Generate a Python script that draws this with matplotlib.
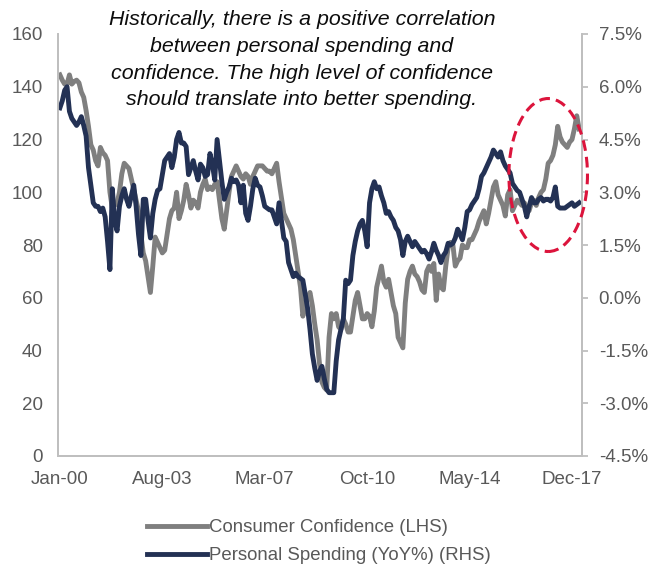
import matplotlib
matplotlib.use("Agg")
import matplotlib.pyplot as plt
from matplotlib.patches import Ellipse
import numpy as np

plt.rcParams["font.family"] = ["Liberation Sans", "DejaVu Sans"]

GRAY = "#7f7f7f"
NAVY = "#233154"
RED = "#dc143c"
AXIS = "#bfbfbf"
LABEL = "#595959"

# monthly, Jan-00 .. Mar-18
confidence = [
    144.5, 142.5, 141, 141, 144.5, 141, 142, 142.5, 141.5, 138, 136, 131,   # 2000
    125, 118, 116, 112, 110, 117, 115, 114, 112, 100, 94, 95,               # 2001
    96, 100, 107, 111, 110, 109, 105, 101, 97, 93, 84, 77,                  # 2002
    74, 68, 62, 72, 83, 81, 79, 77, 78, 84, 90, 93,                         # 2003
    94, 100, 90, 93, 97, 103, 99, 94, 97, 96, 94, 100,                      # 2004
    103, 105, 101, 102, 101, 103, 104, 97, 90, 86, 93, 100,                 # 2005
    106, 108, 110, 108, 106, 105, 107, 106, 103, 106, 108, 110,             # 2006
    110, 110, 109, 108, 108, 107, 109, 111, 104, 98, 92, 90,                # 2007
    88, 86, 82, 76, 70, 64, 53, 57, 60, 62, 57, 50,                         # 2008
    44, 35, 28, 26, 25, 45, 54, 52, 54, 49, 48, 52,                         # 2009
    50, 47, 47, 53, 59, 62, 57, 52, 52, 54, 53, 49,                         # 2010
    55, 64, 68, 72, 66, 64, 67, 62, 57, 54, 45, 43,                         # 2011
    41, 58, 67, 70, 72, 69, 68, 66, 63, 62, 70, 72,                         # 2012
    70, 73, 59, 69, 64, 63, 72, 79, 81, 80, 72, 74,                         # 2013
    75, 80, 79, 79, 82, 82, 84, 86, 89, 91, 93, 88,                         # 2014
    92, 97, 102, 104, 99, 97, 95, 91, 99, 101, 93, 95,                      # 2015
    97, 96, 95, 96, 94, 93, 96, 97, 95, 98, 100, 101,                       # 2016
    105, 111, 112, 114, 118, 125, 121, 119, 118, 117, 119, 120,             # 2017
    124, 129, 124,                                                          # 2018
]
spending = [
    5.4, 5.6, 5.9, 6.0, 5.3, 5.1, 5.0, 4.9, 5.0, 5.15, 4.9, 4.6,            # 2000
    3.7, 3.2, 2.7, 2.6, 2.6, 2.45, 2.55, 2.3, 1.6, 0.8, 3.1, 2.2,           # 2001
    1.9, 2.6, 2.9, 3.1, 2.8, 2.6, 2.9, 3.2, 2.6, 1.8, 1.2, 2.8,             # 2002
    2.8, 2.2, 1.7, 2.4, 2.8, 3.05, 3.1, 3.5, 3.9, 4.0, 4.1, 3.7,            # 2003
    4.0, 4.5, 4.7, 4.4, 4.4, 4.3, 3.5, 3.7, 3.9, 3.6, 3.35, 3.8,            # 2004
    3.7, 3.45, 3.5, 4.1, 3.8, 3.35, 4.5, 3.9, 3.3, 2.8, 3.0, 3.15,          # 2005
    3.4, 3.3, 3.35, 3.2, 2.7, 3.2, 2.4, 2.2, 2.6, 3.1, 3.4, 3.2,            # 2006
    3.15, 2.9, 2.6, 2.55, 2.5, 2.5, 2.3, 2.1, 2.7, 2.2, 1.7, 1.6,           # 2007
    1.0, 0.8, 0.6, 0.7, 0.6, 0.55, 0.5, 0.1, -0.3, -0.9, -1.6, -2.0,        # 2008
    -2.35, -2.1, -1.95, -2.3, -2.6, -2.7, -2.7, -2.7, -1.8, -1.2, -0.9, -0.6,  # 2009
    0.5, 0.4, 0.5, 1.2, 1.6, 1.9, 2.1, 2.2, 1.9, 1.45, 2.7, 3.1,            # 2010
    3.3, 3.1, 3.15, 2.9, 2.7, 2.4, 2.45, 2.3, 2.2, 2.0, 1.9, 1.65,          # 2011
    1.2, 1.6, 1.75, 1.6, 1.45, 1.6, 1.5, 1.4, 1.3, 1.35, 1.25, 1.1,         # 2012
    1.3, 1.55, 1.35, 1.2, 1.0, 1.2, 1.3, 1.55, 1.5, 1.55, 1.7, 1.95,        # 2013
    1.8, 1.65, 2.0, 2.45, 2.5, 2.65, 2.75, 2.85, 3.1, 3.45, 3.55, 3.7,      # 2014
    3.85, 4.0, 4.2, 4.1, 4.0, 4.15, 3.9, 3.75, 3.65, 3.55, 3.25, 3.15,      # 2015
    3.05, 3.0, 2.8, 2.6, 2.3, 2.6, 2.85, 2.7, 2.7, 2.8, 2.85, 2.75,         # 2016
    2.8, 2.8, 2.75, 2.85, 3.15, 2.6, 2.55, 2.55, 2.55, 2.6, 2.65, 2.7,      # 2017
    2.6, 2.65, 2.7,                                                         # 2018
]
tick_months = [0, 43, 86, 129, 172, 215]
tick_labels = ["Jan-00", "Aug-03", "Mar-07", "Oct-10", "May-14", "Dec-17"]
lhs_ticks = list(range(0, 161, 20))
rhs_ticks = [-4.5, -3.0, -1.5, 0.0, 1.5, 3.0, 4.5, 6.0, 7.5]

months = np.arange(len(confidence))

fig = plt.figure(figsize=(6.57, 5.65), dpi=100)
ax = fig.add_axes([58 / 657, 1 - 456 / 565, (582 - 58) / 657, (456 - 34) / 565])
ax2 = ax.twinx()

l1, = ax.plot(months, confidence, color=GRAY, linewidth=3.5, solid_joinstyle="round",
              label="Consumer Confidence (LHS)")
l2, = ax2.plot(months[:len(spending)], spending, color=NAVY, linewidth=3.5,
               solid_joinstyle="round", label="Personal Spending (YoY%) (RHS)")

ax.set_xlim(-0.8, 219.2)
ax.set_ylim(0, 160)
ax2.set_ylim(-4.5, 7.5)
ax.set_xticks(tick_months)
ax.set_xticklabels(tick_labels)
ax.set_yticks(lhs_ticks)
ax2.set_yticks(rhs_ticks)
ax2.set_yticklabels([f"{v:.1f}%" for v in rhs_ticks])

for a in (ax, ax2):
    a.spines["top"].set_visible(False)
    for s in ("left", "right", "bottom"):
        a.spines[s].set_color(AXIS)
        a.spines[s].set_linewidth(1.3)
ax.tick_params(axis="y", length=0, pad=11, labelsize=13.5, labelcolor=LABEL)
ax.tick_params(axis="x", length=0, pad=11, labelsize=13.5, labelcolor=LABEL)
ax2.tick_params(axis="y", length=4, width=1.3, color=AXIS, pad=8, labelsize=13.5,
                labelcolor=LABEL)

# highlight of the recent divergence
ax2.add_patch(Ellipse((205, 3.49), 33, 4.35, fill=False, edgecolor=RED, linewidth=2.2,
                      linestyle=(0, (3.5, 2)), clip_on=False, zorder=5))

fig.text(302 / 657, 1 - 10 / 565,
         "Historically, there is a positive correlation\n"
         "between personal spending and\n"
         "confidence. The high level of confidence\n"
         "should translate into better spending.",
         ha="center", va="top", style="italic", fontsize=15.4, linespacing=1.52,
         color="#0d0d0d")

fig.legend(handles=[l1, l2], loc="upper left", bbox_to_anchor=(147 / 657, 1 - 519 / 565),
           frameon=False, fontsize=13.4, labelcolor=LABEL, handlelength=3.2,
           handletextpad=0.15, labelspacing=0.6, borderpad=0, borderaxespad=0)

fig.savefig("out.png", dpi=100)
